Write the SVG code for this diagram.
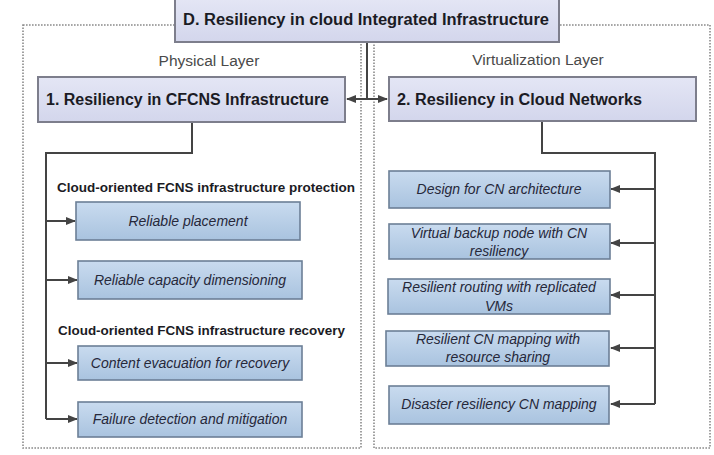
<svg xmlns="http://www.w3.org/2000/svg" width="714" height="455" viewBox="0 0 714 455">
<defs>
<linearGradient id="gLav" x1="0" y1="0" x2="0" y2="1"><stop offset="0" stop-color="#e4e6f5"/><stop offset="1" stop-color="#d3d6ec"/></linearGradient>
<linearGradient id="gBlue" x1="0" y1="0" x2="0" y2="1"><stop offset="0" stop-color="#c9dbef"/><stop offset="1" stop-color="#a9c3df"/></linearGradient>
<marker id="ah" viewBox="0 0 10 10" refX="9" refY="5" markerWidth="5" markerHeight="5" orient="auto-start-reverse"><path d="M0,1 L10,5 L0,9 z" fill="#444"/></marker>
<style>
.dot{fill:none;stroke:#8a8a8a;stroke-width:1.6;stroke-dasharray:1.6 1.4}
.lav{fill:url(#gLav);stroke:#7d7e8c;stroke-width:2}
.sub{fill:url(#gBlue);stroke:#6c7f96;stroke-width:1.6}
.t1{font-family:"Liberation Sans",Arial,sans-serif;font-weight:bold;font-size:16px;fill:#1b1b24}
.t2{font-family:"Liberation Sans",Arial,sans-serif;font-weight:bold;font-size:13.5px;fill:#1b1b24}
.lay{font-family:"Liberation Sans",Arial,sans-serif;font-size:15.5px;fill:#4a4a4a;text-anchor:middle}
.it{font-family:"Liberation Sans",Arial,sans-serif;font-style:italic;font-size:14px;fill:#26283a;text-anchor:middle}
.ln{fill:none;stroke:#444;stroke-width:2}
.ar{fill:none;stroke:#444;stroke-width:2;marker-end:url(#ah)}
</style>
</defs>
<rect width="714" height="455" fill="#ffffff"/>
<g id="regions">
<rect class="dot" x="23" y="25" width="338" height="423"/>
<rect class="dot" x="374" y="25" width="336" height="423"/>
</g>
<g id="connectors">
<line class="ln" x1="367" y1="42" x2="367" y2="99"/>
<line class="ar" x1="367" y1="99" x2="347" y2="99"/>
<line class="ar" x1="367" y1="99" x2="387" y2="99"/>
<polyline class="ln" points="192,122 192,153 46,153 46,419"/>
<line class="ar" x1="46" y1="221" x2="75" y2="221"/>
<line class="ar" x1="46" y1="280" x2="77" y2="280"/>
<line class="ar" x1="46" y1="363" x2="77" y2="363"/>
<line class="ar" x1="46" y1="419" x2="77" y2="419"/>
<polyline class="ln" points="542,121 542,153 655,153 655,404"/>
<line class="ar" x1="655" y1="189" x2="611" y2="189"/>
<line class="ar" x1="655" y1="243" x2="611" y2="243"/>
<line class="ar" x1="655" y1="295" x2="611" y2="295"/>
<line class="ar" x1="655" y1="348" x2="611" y2="348"/>
<line class="ar" x1="655" y1="404" x2="611" y2="404"/>
</g>
<g id="nodeD">
<rect class="lav" x="175" y="-2" width="384" height="44"/>
<text class="t1" x="183" y="25" textLength="366" lengthAdjust="spacingAndGlyphs">D.  Resiliency in cloud Integrated Infrastructure</text>
</g>
<g id="labels">
<text class="lay" x="209" y="66">Physical Layer</text>
<text class="lay" x="538" y="65">Virtualization Layer</text>
<text class="t2" x="57" y="192" textLength="298" lengthAdjust="spacingAndGlyphs">Cloud-oriented FCNS infrastructure protection</text>
<text class="t2" x="58" y="335" textLength="287" lengthAdjust="spacingAndGlyphs">Cloud-oriented FCNS infrastructure recovery</text>
</g>
<g id="node1">
<rect class="lav" x="38" y="77" width="307" height="45"/>
<text class="t1" x="46" y="105" textLength="283" lengthAdjust="spacingAndGlyphs">1.  Resiliency in CFCNS Infrastructure</text>
</g>
<g id="node2">
<rect class="lav" x="389" y="77" width="307" height="44"/>
<text class="t1" x="397" y="105" textLength="245" lengthAdjust="spacingAndGlyphs">2.  Resiliency in Cloud Networks</text>
</g>
<g id="p1"><rect class="sub" x="76" y="202" width="224" height="38"/><text class="it" x="188" y="226">Reliable placement</text></g>
<g id="p2"><rect class="sub" x="78" y="261" width="224" height="38"/><text class="it" x="190" y="285">Reliable capacity dimensioning</text></g>
<g id="r1"><rect class="sub" x="78" y="346" width="224" height="34"/><text class="it" x="190" y="368">Content evacuation for recovery</text></g>
<g id="r2"><rect class="sub" x="78" y="402" width="224" height="35"/><text class="it" x="190" y="424">Failure detection and mitigation</text></g>
<g id="v1"><rect class="sub" x="389" y="171" width="221" height="37"/><text class="it" x="499" y="194">Design for CN architecture</text></g>
<g id="v2"><rect class="sub" x="389" y="224" width="221" height="35"/><text class="it" x="499" y="238">Virtual backup node with CN</text><text class="it" x="499" y="256">resiliency</text></g>
<g id="v3"><rect class="sub" x="388" y="279" width="222" height="35"/><text class="it" x="499" y="292">Resilient routing with replicated</text><text class="it" x="499" y="311">VMs</text></g>
<g id="v4"><rect class="sub" x="386" y="331" width="223" height="35"/><text class="it" x="498" y="344">Resilient CN mapping with</text><text class="it" x="498" y="362">resource sharing</text></g>
<g id="v5"><rect class="sub" x="389" y="386" width="220" height="38"/><text class="it" x="499" y="409">Disaster resiliency CN mapping</text></g>
</svg>
